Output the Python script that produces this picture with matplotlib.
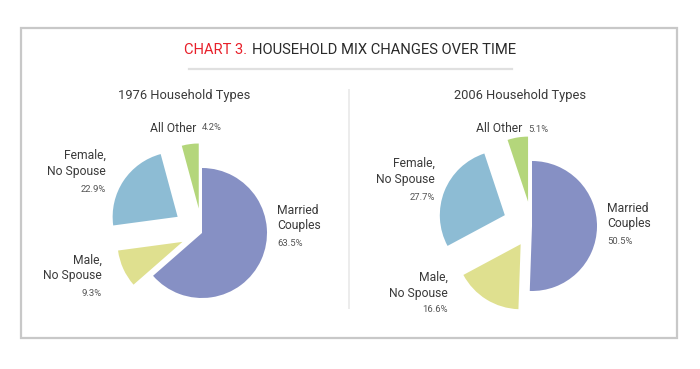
import matplotlib
matplotlib.use('Agg')
import matplotlib.pyplot as plt
from matplotlib.patches import Rectangle
from matplotlib.lines import Line2D

# data
categories = ['Married Couples', 'Male, No Spouse', 'Female, No Spouse', 'All Other']
share_1976 = [63.5, 9.3, 22.9, 4.2]
share_2006 = [50.5, 16.6, 27.7, 5.1]
years = ['1976', '2006']
colors = ['#8690c4', '#dfe08f', '#8dbcd4', '#b4d67b']

W, H = 700, 369
plt.rcParams['font.family'] = ['Roboto', 'DejaVu Sans']
fig = plt.figure(figsize=(W / 100, H / 100), dpi=100)
rend = fig.canvas.get_renderer()

def fx(x):
  return x / W

def fy(y):
  return 1 - y / H

def fit(s, width, base=10):
  # font size so that string s is about width px wide
  t = fig.text(0, 0, s, fontsize=base)
  w = t.get_window_extent(rend).width
  t.remove()
  return base * width / w

# the original face is condensed; go a bit larger than width-fit
title_fs = fit('CHART 3. HOUSEHOLD MIX CHANGES OVER TIME', 305) * 1.08
sub_fs = fit('1976 Household Types', 118) * 1.12
lab_fs = fit('No Spouse', 50) * 1.18
pct_fs = fit('22.9%', 23) * 1.1

# frame, title, rules
fig.patches.append(Rectangle((fx(21), fy(338)), fx(677) - fx(21), fy(28) - fy(338),
                             transform=fig.transFigure, fill=False, ec='#c8c8c8', lw=1.6))
fig.lines.append(Line2D([fx(189), fx(512)], [fy(69), fy(69)], transform=fig.transFigure,
                        color='#e0e0e0', lw=1.6))
fig.lines.append(Line2D([fx(349), fx(349)], [fy(90), fy(308)], transform=fig.transFigure,
                        color='#ececec', lw=1.4))

t1 = fig.text(fx(350), fy(50), 'CHART 3.', color='#e8202a', fontsize=title_fs, va='center', ha='left')
t2 = fig.text(fx(350), fy(50), 'HOUSEHOLD MIX CHANGES OVER TIME', color='#2a2a2a',
              fontsize=title_fs, va='center', ha='left')
w1 = t1.get_window_extent(rend).width
w2 = t2.get_window_extent(rend).width
gap = 5
x0 = 350 - (w1 + gap + w2) / 2
t1.set_x(fx(x0))
t2.set_x(fx(x0 + w1 + gap))

lab_c = '#3a3a3a'
pct_c = '#555555'

def pie(cx, cy, vals, year, lab):
  # axes so that radius 1 = 65 px
  r = 65
  ax = fig.add_axes([fx(cx - 2 * r), fy(cy + 2 * r), 4 * r / W, 4 * r / H])
  ax.pie(vals, colors=colors, startangle=90, counterclock=False,
         explode=[0, 0.33, 0.45, 0.38], wedgeprops=dict(linewidth=0))
  ax.set_xlim(-2, 2)
  ax.set_ylim(-2, 2)
  ax.set_aspect('equal')
  ax.axis('off')
  fig.text(fx(lab['title'][0]), fy(lab['title'][1]), year + ' Household Types',
           color=lab_c, fontsize=sub_fs, ha='center', va='center')
  x, y = lab['married']
  fig.text(fx(x), fy(y), 'Married\nCouples', color=lab_c, fontsize=lab_fs, ha='left', va='center',
           linespacing=1.3)
  fig.text(fx(x), fy(y + 26), '%.1f%%' % vals[0], color=pct_c, fontsize=pct_fs, ha='left', va='center')
  x, y = lab['male']
  fig.text(fx(x), fy(y), 'Male,\nNo Spouse', color=lab_c, fontsize=lab_fs, ha='right', va='center',
           linespacing=1.3)
  fig.text(fx(x), fy(y + 25), '%.1f%%' % vals[1], color=pct_c, fontsize=pct_fs, ha='right', va='center')
  x, y = lab['female']
  fig.text(fx(x), fy(y), 'Female,\nNo Spouse', color=lab_c, fontsize=lab_fs, ha='right', va='center',
           linespacing=1.3)
  fig.text(fx(x), fy(y + 26), '%.1f%%' % vals[2], color=pct_c, fontsize=pct_fs, ha='right', va='center')
  x, y = lab['other']
  t = fig.text(fx(x), fy(y), 'All Other', color=lab_c, fontsize=lab_fs, ha='left', va='center')
  b = t.get_window_extent(rend)
  fig.text((b.x1 + 6) / W, fy(y), '%.1f%%' % vals[3], color=pct_c, fontsize=pct_fs, ha='left', va='center')

pie(202, 233, share_1976, years[0],
    dict(title=(184, 95), married=(277, 218), male=(102, 268), female=(106, 163), other=(150, 128)))
pie(532, 226, share_2006, years[1],
    dict(title=(520, 95), married=(607, 216), male=(448, 285), female=(435, 171), other=(476, 129)))

fig.savefig('out.png', dpi=100, facecolor='white')
